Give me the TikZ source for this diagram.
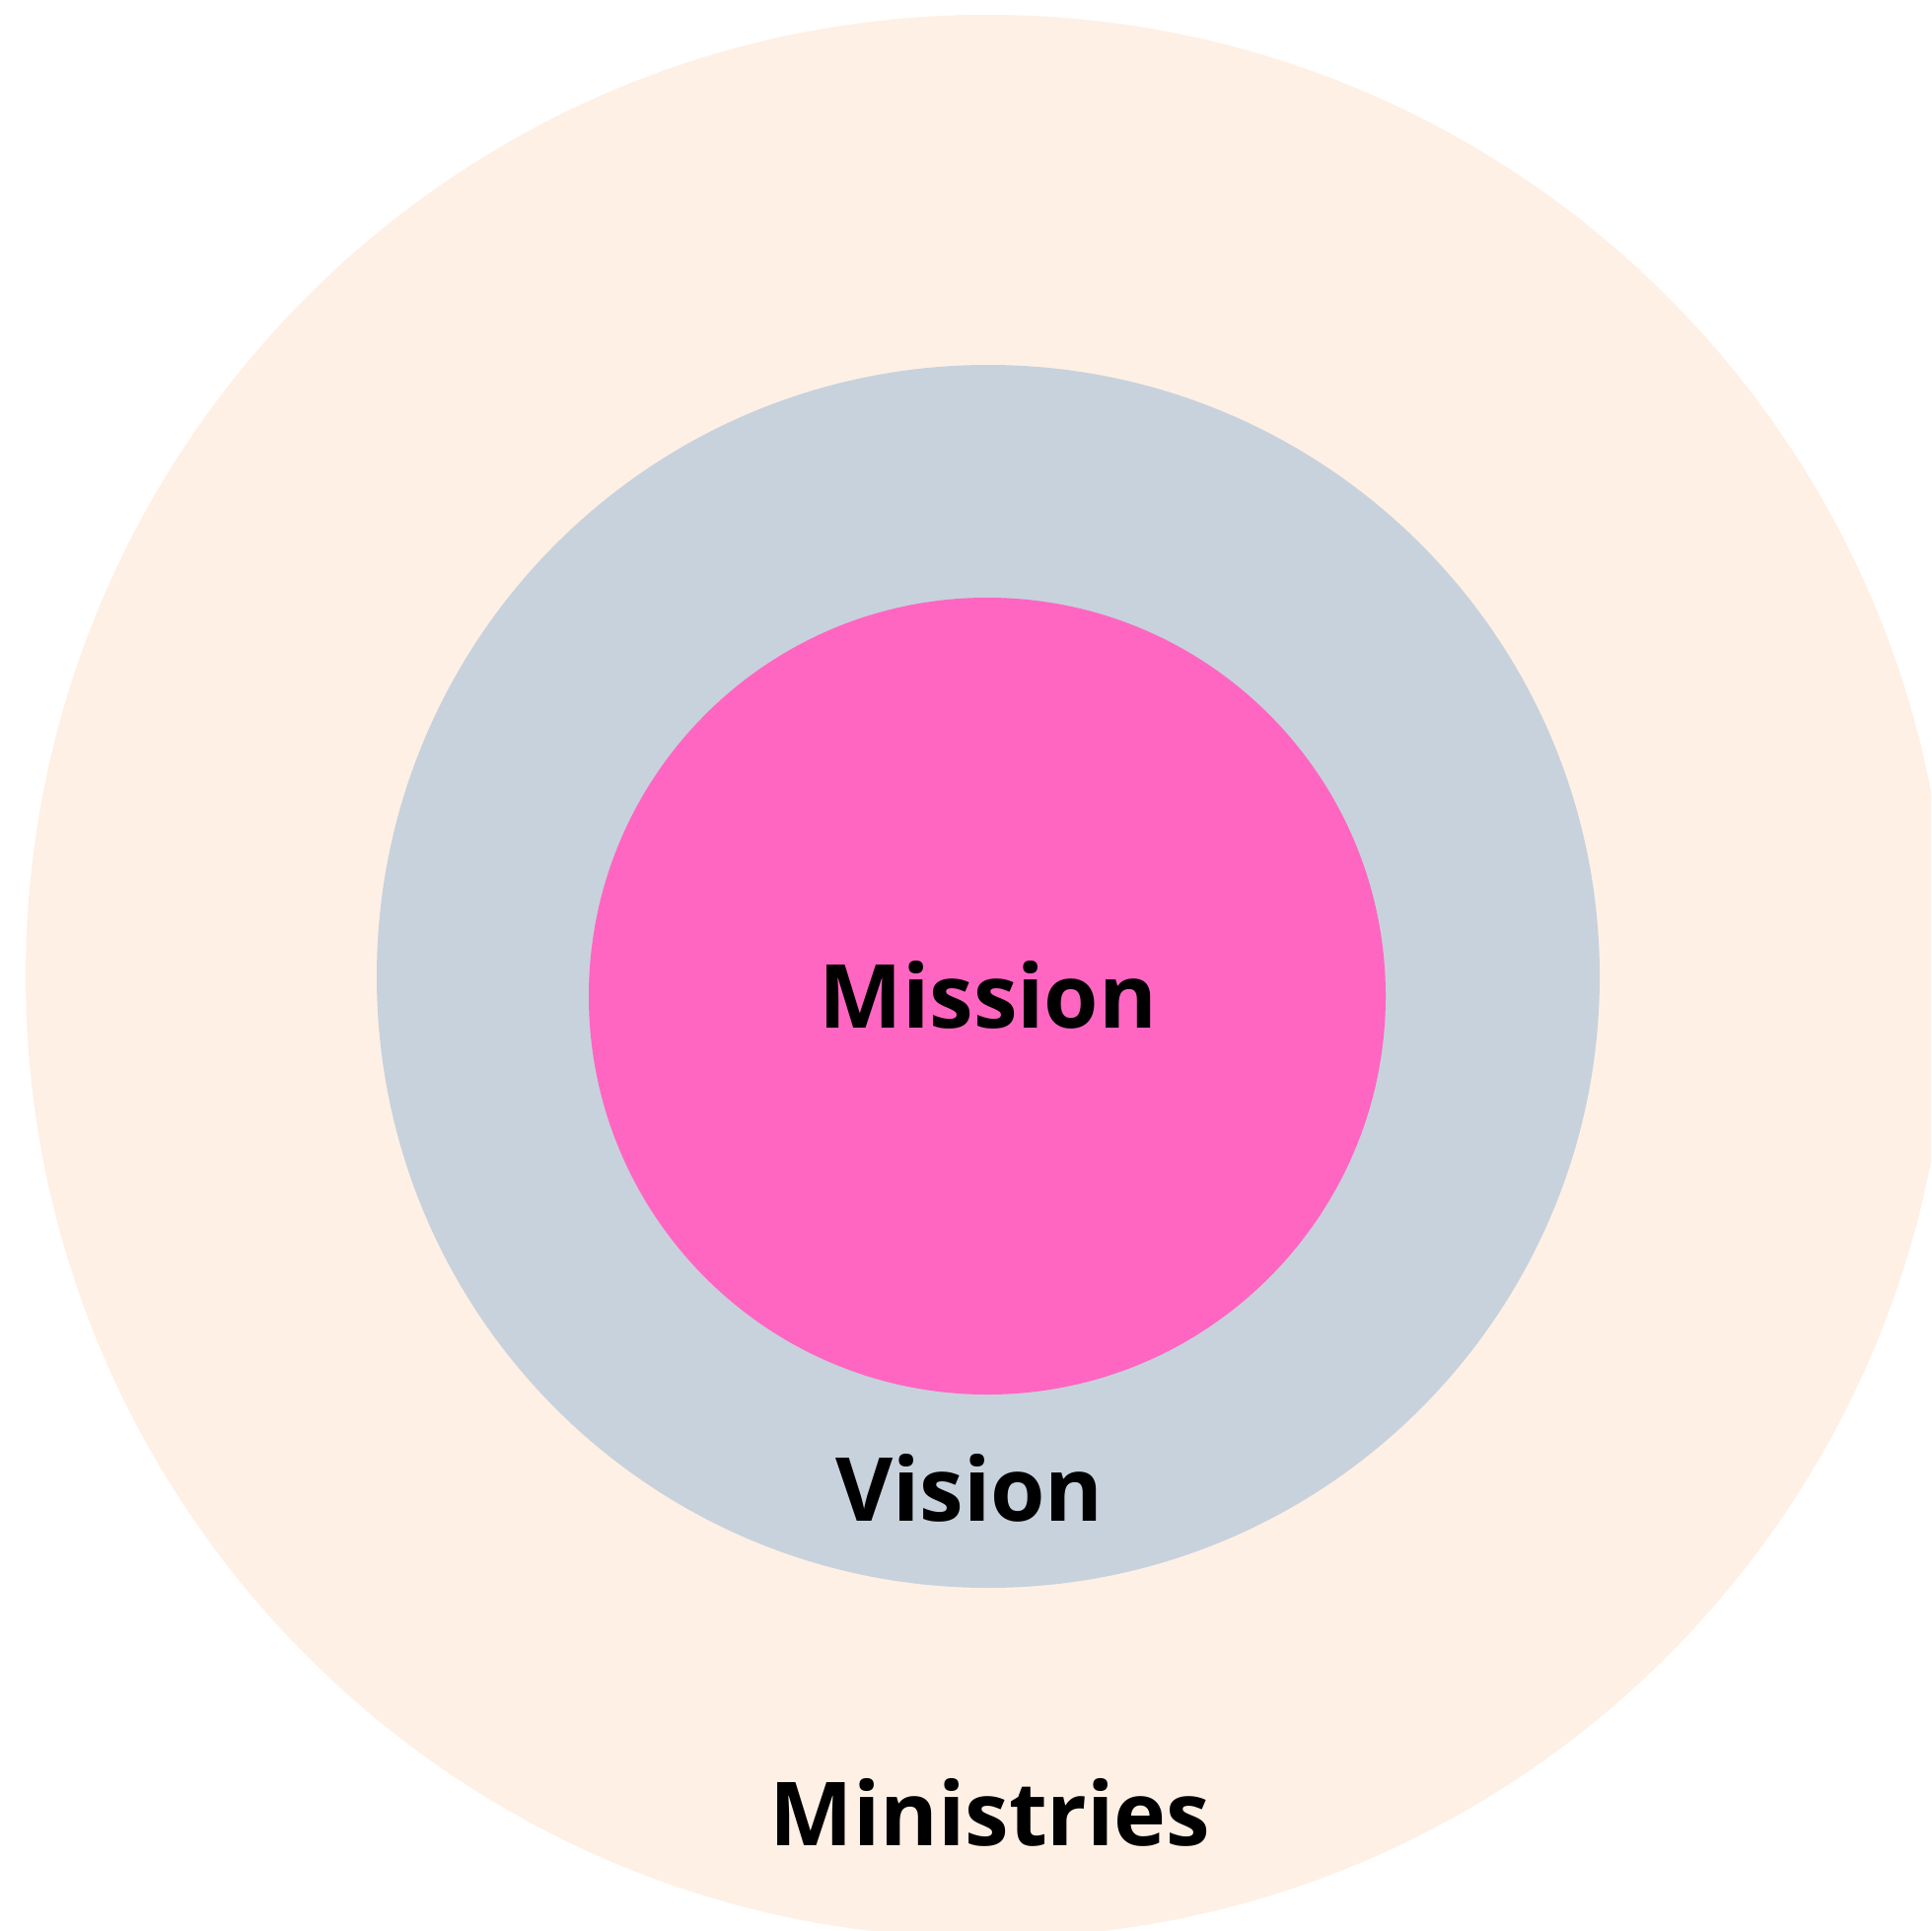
\documentclass[tikz,border=0pt]{standalone}
\usepackage{fontspec}
\setmainfont{Open Sans}
\definecolor{peach}{HTML}{FEF0E5}
\definecolor{slate}{HTML}{C8D2DC}
\definecolor{hotpink}{HTML}{FF66C2}
\begin{document}
\begin{tikzpicture}[x=0.02cm,y=-0.02cm,
  ring/.style={fill=#1,draw=none},
  lbl/.style={anchor=base,inner sep=0pt,font=\fontsize{51}{51}\selectfont\bfseries,text=black}]
\useasboundingbox (0,0) rectangle (1959,1957);
\clip (0,0) rectangle (1958,1957);
\fill[white] (0,0) rectangle (1959,1957);
\path[ring=peach] (1001,990) circle[radius=975];
\path[ring=slate] (1002,990) circle[radius=620];
\path[ring=hotpink] (1001,1010) circle[radius=404];
\node[lbl] (mission) at (1002,1042) {Mission};
\node[lbl] (vision) at (983,1542) {Vision};
\node[lbl] (ministries) at (1004,1871) {Ministries};
\end{tikzpicture}
\end{document}
